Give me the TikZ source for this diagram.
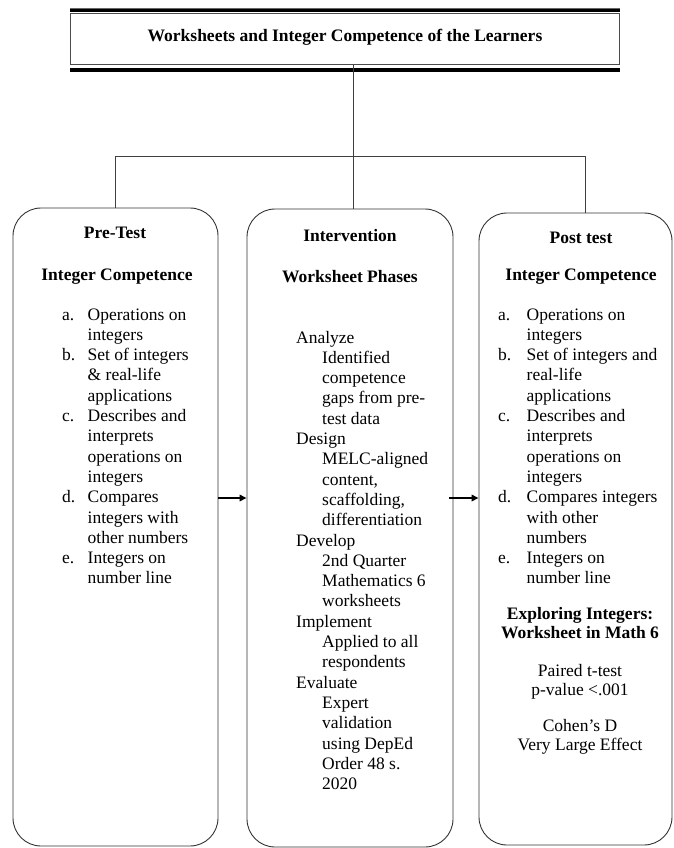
\documentclass[tikz,border=0pt]{standalone}
\usepackage{fontspec}
\setmainfont{Liberation Serif}
\usetikzlibrary{arrows.meta,calc}

\begin{document}
\begin{tikzpicture}[x=1pt,y=-1pt,
  txt/.style={font=\fontsize{17.5}{20.3}\selectfont, inner sep=0pt},
  head/.style={font=\fontsize{17.5}{20.3}\selectfont\bfseries, inner sep=0pt, anchor=base},
  phase/.style={draw=black!80, line width=0.9pt, rounded corners=28pt, inner sep=0pt},
  conn/.style={draw=black!75, line width=0.9pt},
  flow/.style={line width=1.6pt, -{Triangle[length=7pt,width=6.5pt]}}]
\useasboundingbox (0,0) rectangle (674,848);
% title frame
\node[draw=black!70, line width=1pt, minimum width=549pt, minimum height=51pt,
  head, anchor=center, text height=12pt, text depth=8pt] (title) at (345,39.5)
  {Worksheets and Integer Competence of the Learners};
\draw[line width=3pt] ([yshift=2.5pt]title.north west) -- ([yshift=2.5pt]title.north east);
\draw[line width=0.6pt, black!60] ([yshift=5pt]title.north west) -- ([yshift=5pt]title.north east);
\draw[line width=4pt] ([yshift=-4.5pt]title.south west) -- ([yshift=-4.5pt]title.south east);
% the three phases
\node[phase, minimum width=205pt, minimum height=638pt] (pre) at (115.5,527) {};
\node[phase, minimum width=206pt, minimum height=638pt] (mid) at (350,528) {};
\node[phase, minimum width=193pt, minimum height=632pt] (post) at (575.5,529) {};
% connectors
\coordinate (hub) at (353,156);
\coordinate (rt) at (585,156);
\draw[conn] (title.south -| hub) -- (hub |- mid.north);
\draw[conn] (pre.north) |- (rt) -- (rt |- post.north);
\draw[flow] ([yshift=29pt]pre.east) -- ([yshift=29pt]pre.east -| mid.west);
\draw[flow] ([xshift=-4pt,yshift=30pt]mid.east) -- ([yshift=30pt]mid.east -| post.west);

% Pre-Test
\node[head] (pretitle) at (115,238) {Pre-Test};
\node[head] (precomp) at (117,280) {Integer Competence};
\node[txt, anchor=base west] (prelist) at (62,320) {\begin{tabular}[t]{@{}p{25.5pt}@{}l@{}}
a. & Operations on\\
 & integers\\
b. & Set of integers\\
 & \& real-life\\
 & applications\\
c. & Describes and\\
 & interprets\\
 & operations on\\
 & integers\\
d. & Compares\\
 & integers with\\
 & other numbers\\
e. & Integers on\\
 & number line
\end{tabular}};

% Intervention
\node[head] (midtitle) at (350,241) {Intervention};
\node[head] (midphases) at (350,282) {Worksheet Phases};
\node[txt, anchor=base west] (steps) at (296,343) {\begin{tabular}[t]{@{}p{26pt}@{}l@{}}
\multicolumn{2}{@{}l@{}}{Analyze}\\
 & Identified\\
 & competence\\
 & gaps from pre-\\
 & test data\\
\multicolumn{2}{@{}l@{}}{Design}\\
 & MELC-aligned\\
 & content,\\
 & scaffolding,\\
 & differentiation\\
\multicolumn{2}{@{}l@{}}{Develop}\\
 & 2nd Quarter\\
 & Mathematics 6\\
 & worksheets\\
\multicolumn{2}{@{}l@{}}{Implement}\\
 & Applied to all\\
 & respondents\\
\multicolumn{2}{@{}l@{}}{Evaluate}\\
 & Expert\\
 & validation\\
 & using DepEd\\
 & Order 48 s.\\
 & 2020
\end{tabular}};

% Post test
\node[head] (posttitle) at (581,243) {Post test};
\node[head] (postcomp) at (581,280) {Integer Competence};
\node[txt, anchor=base west] (postlist) at (498,320) {\begin{tabular}[t]{@{}p{28.5pt}@{}l@{}}
a. & Operations on\\
 & integers\\
b. & Set of integers and\\
 & real-life\\
 & applications\\
c. & Describes and\\
 & interprets\\
 & operations on\\
 & integers\\
d. & Compares integers\\
 & with other\\
 & numbers\\
e. & Integers on\\
 & number line
\end{tabular}};
\node[head] (material) at (580,619) {\begin{tabular}[t]{@{}c@{}}Exploring Integers:\\[-1.3pt]Worksheet in Math 6\end{tabular}};
\node[txt, anchor=base] (ttest) at (580,676) {\begin{tabular}[t]{@{}c@{}}Paired t-test\\[-1.3pt]p-value <.001\end{tabular}};
\node[txt, anchor=base] (effect) at (580,731) {\begin{tabular}[t]{@{}c@{}}Cohen's D\\[-1.3pt]Very Large Effect\end{tabular}};
\end{tikzpicture}
\end{document}
